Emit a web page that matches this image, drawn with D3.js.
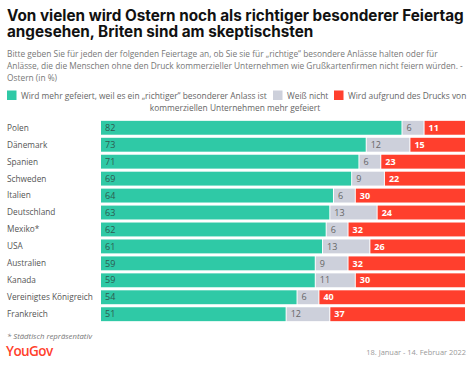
<!DOCTYPE html>
<html lang="de">
<head>
<meta charset="UTF-8">
<title>Ostern</title>
<script src="https://cdn.jsdelivr.net/npm/d3@7"></script>
<style>
  body { margin: 0; background: #fff; }
  svg { display: block; font-family: "Open Sans", "Noto Sans", sans-serif; }
</style>
</head>
<body>
<script>
const width = 474, height = 367;

// data
const countries = ["Polen", "Dänemark", "Spanien", "Schweden", "Italien", "Deutschland", "Mexiko*",
  "USA", "Australien", "Kanada", "Vereinigtes Königreich", "Frankreich"];
const richtig = [82, 73, 71, 69, 64, 63, 62, 61, 59, 59, 54, 51];
const weissNicht = [6, 12, 6, 9, 6, 13, 6, 13, 9, 11, 6, 12];
const kommerz = [11, 15, 23, 22, 30, 24, 32, 26, 32, 30, 40, 37];
const seriesNames = ["Wird mehr gefeiert, weil es ein „richtiger“ besonderer Anlass ist", "Weiß nicht",
  "Wird aufgrund des Drucks von", "kommerziellen Unternehmen mehr gefeiert"];
const colors = ["#2fc9a6", "#cdd0db", "#ff3f2d"];

const title = ["Von vielen wird Ostern noch als richtiger besonderer Feiertag", "angesehen, Briten sind am skeptischsten"];
const subtitle = ["Bitte geben Sie für jeden der folgenden Feiertage an, ob Sie sie für „richtige“ besondere Anlässe halten oder für",
  "Anlässe, die die Menschen ohne den Druck kommerzieller Unternehmen wie Grußkartenfirmen nicht feiern würden. -",
  "Ostern (in %)"];

const svg = d3.select("body").append("svg").attr("width", width).attr("height", height);

// scale a text's font size so it takes the given width, returns the new size
function fit(sel, w) {
  const fs = +sel.attr("font-size");
  const cur = sel.node().getComputedTextLength();
  const nfs = fs * w / cur;
  sel.attr("font-size", nfs);
  return nfs;
}

// title
const t = svg.append("g");
title.forEach((line, i) => {
  t.append("text").attr("x", 7).attr("y", 21 + i * 16)
    .attr("font-family", "Inter, 'Open Sans', sans-serif")
    .attr("font-weight", 700).attr("font-size", 17).attr("fill", "#111").text(line);
});
const tfs = fit(t.select("text"), 457);
t.selectAll("text").attr("font-size", tfs);

// subtitle, widths of the first two lines
const sub = subtitle.map((line, i) => svg.append("text").attr("x", 7).attr("y", 57 + i * 12)
  .attr("font-size", 9.3).attr("fill", "#777").text(line));
const sfs = Math.min(fit(sub[0], 455), fit(sub[1], 456));
sub.forEach(s => s.attr("font-size", sfs));

// legend: one font size for all entries, taken from the first one
const lg = svg.append("g");
const legendY = 99;
const items = [
  {c: colors[0], text: seriesNames[0], x: 7},
  {c: colors[1], text: seriesNames[1], x: 273},
  {c: colors[2], text: seriesNames[2], x: 334}
];
const ltexts = items.map(it => {
  lg.append("rect").attr("x", it.x).attr("y", legendY - 8.5).attr("width", 9.5).attr("height", 9.5).attr("fill", it.c);
  return lg.append("text").attr("x", it.x + 14).attr("y", legendY).attr("font-size", 9.3).attr("fill", "#666").text(it.text);
});
const lfs = fit(ltexts[0], 246);
ltexts.forEach(l => l.attr("font-size", lfs));
lg.append("text").attr("x", 235).attr("y", legendY + 12).attr("text-anchor", "middle")
  .attr("font-size", lfs).attr("fill", "#666").text(seriesNames[3]);

// bars
const rows = countries.map((c, i) => ({country: c, vals: [richtig[i], weissNicht[i], kommerz[i]]}));

const y = d3.scaleBand().domain(countries).range([120, 322]).paddingInner(0.18).paddingOuter(0.05);

const labels = [];
rows.forEach(r => {
  const total = d3.sum(r.vals);
  const x = d3.scaleLinear().domain([0, total]).range([101, 465]);
  const g = svg.append("g").attr("transform", `translate(0,${y(r.country)})`);
  let acc = 0;
  r.vals.forEach((v, j) => {
    const x0 = x(acc), x1 = x(acc + v);
    g.append("rect").attr("x", x0).attr("y", 0)
      .attr("width", Math.max(0, x1 - x0 - (j < 2 ? 1 : 0))).attr("height", y.bandwidth())
      .attr("fill", colors[j]);
    g.append("text").attr("x", x0 + 4).attr("y", y.bandwidth() / 2).attr("dy", "0.35em")
      .attr("font-size", 9)
      .attr("font-weight", j === 2 ? 700 : 400)
      .attr("fill", j === 2 ? "#fff" : (j === 0 ? "#2d5a50" : "#666"))
      .text(v);
    acc += v;
  });
  labels.push(svg.append("text").attr("x", 7).attr("y", y(r.country) + y.bandwidth() / 2).attr("dy", "0.35em")
    .attr("font-size", 9.3).attr("fill", "#555").text(r.country));
});
const cfs = fit(labels[10], 86);
labels.forEach(l => l.attr("font-size", cfs));

// footer
const fn = svg.append("text").attr("x", 7).attr("y", 339).attr("font-size", 8.5).attr("font-style", "italic")
  .attr("fill", "#777").text("* Städtisch repräsentativ");
fit(fn, 85);
const logo = svg.append("text").attr("x", 6).attr("y", 356).attr("font-size", 15.5).attr("font-weight", 600)
  .attr("letter-spacing", -0.6).attr("fill", "#ff412c").text("YouGov");
fit(logo, 47);
const dt = svg.append("text").attr("x", 466).attr("y", 355).attr("text-anchor", "end").attr("font-size", 8.8)
  .attr("fill", "#999").text("18. Januar - 14. Februar 2022");
fit(dt, 100);
</script>
</body>
</html>
